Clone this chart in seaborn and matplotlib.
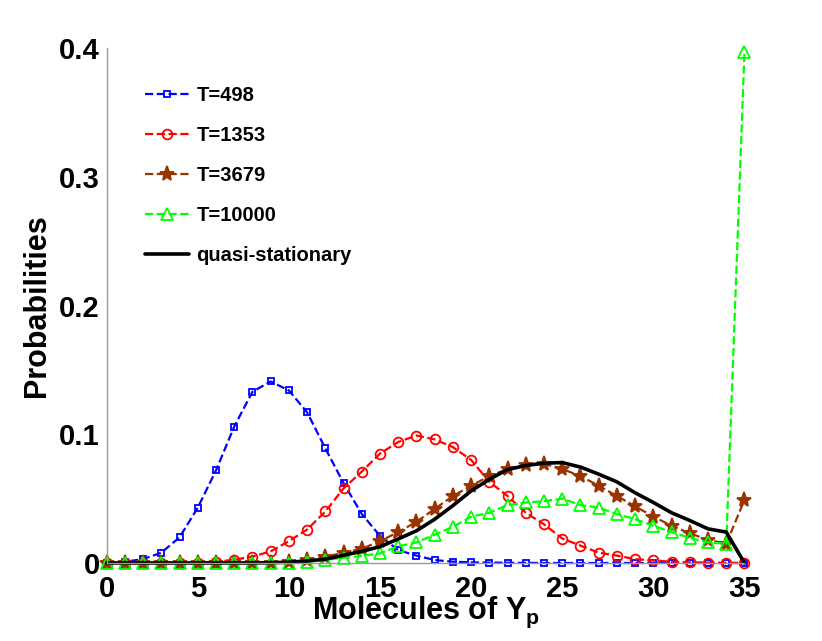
import matplotlib
matplotlib.use("Agg")
import matplotlib.pyplot as plt
import seaborn as sns

# molecule counts 0..35
molecules = list(range(36))

# probability distributions
p_t498 = [0.0, 0.001, 0.003, 0.008, 0.020, 0.043, 0.072, 0.106, 0.133, 0.141,
          0.134, 0.117, 0.089, 0.062, 0.038, 0.021, 0.010, 0.0057, 0.0023, 0.001,
          0.0005, 0.0003, 0.0002, 0.0001, 0.0, 0.0, 0.0, 0.0, 0.0, 0.0,
          0.0, 0.0, 0.0, 0.0, 0.0, 0.0]
p_t1353 = [0.0, 0.0, 0.0, 0.0, 0.0, 0.0003, 0.001, 0.0025, 0.005, 0.009,
           0.017, 0.026, 0.040, 0.058, 0.071, 0.085, 0.094, 0.099, 0.096, 0.090,
           0.080, 0.063, 0.052, 0.039, 0.030, 0.019, 0.0135, 0.008, 0.0057, 0.003,
           0.002, 0.001, 0.0005, 0.0003, 0.0001, 0.0]
p_t3679 = [0.0, 0.0, 0.0, 0.0, 0.0, 0.0, 0.0, 0.0, 0.0, 0.0003,
           0.001, 0.002, 0.0048, 0.008, 0.011, 0.017, 0.024, 0.032, 0.042, 0.052,
           0.060, 0.0675, 0.073, 0.076, 0.077, 0.073, 0.0675, 0.060, 0.052, 0.044,
           0.036, 0.029, 0.023, 0.018, 0.015, 0.049]
p_t10000 = [0.0, 0.0, 0.0, 0.0, 0.0, 0.0, 0.0, 0.0, 0.0, 0.0,
            0.0, 0.001, 0.0025, 0.004, 0.0055, 0.0075, 0.013, 0.016, 0.022, 0.028,
            0.036, 0.039, 0.045, 0.047, 0.048, 0.050, 0.045, 0.043, 0.038, 0.034,
            0.029, 0.024, 0.0195, 0.016, 0.015, 0.397]
p_quasi = [0.0, 0.0, 0.0, 0.0, 0.0, 0.0, 0.0, 0.0, 0.0, 0.0002,
           0.0006, 0.0015, 0.003, 0.006, 0.009, 0.0127, 0.0187, 0.025, 0.034, 0.0446,
           0.056, 0.065, 0.0726, 0.0757, 0.0775, 0.078, 0.0745, 0.069, 0.063, 0.0545,
           0.047, 0.039, 0.033, 0.0265, 0.024, 0.0]

sns.set_style("white")
plt.rcParams["font.family"] = ["Liberation Sans", "DejaVu Sans"]
plt.rcParams["font.weight"] = "bold"
plt.rcParams["text.color"] = "black"
plt.rcParams["axes.labelcolor"] = "black"
plt.rcParams["mathtext.fontset"] = "custom"
plt.rcParams["mathtext.rm"] = "Liberation Sans:bold"
plt.rcParams["mathtext.bf"] = "Liberation Sans:bold"
plt.rcParams["mathtext.it"] = "Liberation Sans:bold"

fig = plt.figure(figsize=(8.22, 6.41), dpi=100)
ax = fig.add_axes([0.1298, 0.1217, 0.7759, 0.8034])

common = dict(linestyle="--", linewidth=1.6, markeredgewidth=1.3, clip_on=False)
sns.lineplot(x=molecules, y=p_t498, ax=ax, color="#0000ff", marker="s",
             markersize=5, markerfacecolor="none", markeredgecolor="#0000ff",
             label="T=498", **common)
sns.lineplot(x=molecules, y=p_t1353, ax=ax, color="#ff0000", marker="o",
             markersize=7, markerfacecolor="none", markeredgecolor="#ff0000",
             label="T=1353", **common)
sns.lineplot(x=molecules, y=p_t3679, ax=ax, color="#993300", marker="*",
             markersize=11, markerfacecolor="#993300", markeredgecolor="#993300",
             label="T=3679", **common)
sns.lineplot(x=molecules, y=p_t10000, ax=ax, color="#00ff00", marker="^",
             markersize=8, markerfacecolor="none", markeredgecolor="#00ff00",
             label="T=10000", **common)
sns.lineplot(x=molecules, y=p_quasi, ax=ax, color="black", linewidth=2.6,
             label="quasi-stationary", clip_on=False)

ax.set_xlim(0, 35)
ax.set_ylim(0, 0.4)
ax.set_xticks([0, 5, 10, 15, 20, 25, 30, 35])
ax.set_yticks([0, 0.1, 0.2, 0.3, 0.4])
ax.set_yticklabels(["0", "0.1", "0.2", "0.3", "0.4"])

for side in ["top", "right"]:
    ax.spines[side].set_visible(False)
for side in ["left", "bottom"]:
    ax.spines[side].set_color("#999999")
    ax.spines[side].set_linewidth(1.0)

ax.tick_params(axis="both", direction="in", length=3, width=1,
               color="#999999", labelsize=21, labelcolor="black")
ax.tick_params(axis="x", pad=9)
ax.tick_params(axis="y", pad=5)
for lab in ax.get_xticklabels() + ax.get_yticklabels():
    lab.set_fontweight("bold")

ax.set_xlabel("Molecules of $\\mathbf{Y_p}$", fontsize=22, fontweight="bold",
              color="black")
ax.xaxis.set_label_coords(0.5, -0.062)
ax.set_ylabel("Probabilities", fontsize=22, fontweight="bold", color="black")
ax.yaxis.set_label_coords(-0.085, 0.5)

ax.legend(loc="upper left", bbox_to_anchor=(0.06, 0.927), frameon=False,
          prop={"size": 14.5, "weight": "bold"}, borderpad=0,
          borderaxespad=0, handlelength=2.2, handletextpad=0.35,
          labelspacing=1.05)

fig.savefig("out.png", dpi=100)
